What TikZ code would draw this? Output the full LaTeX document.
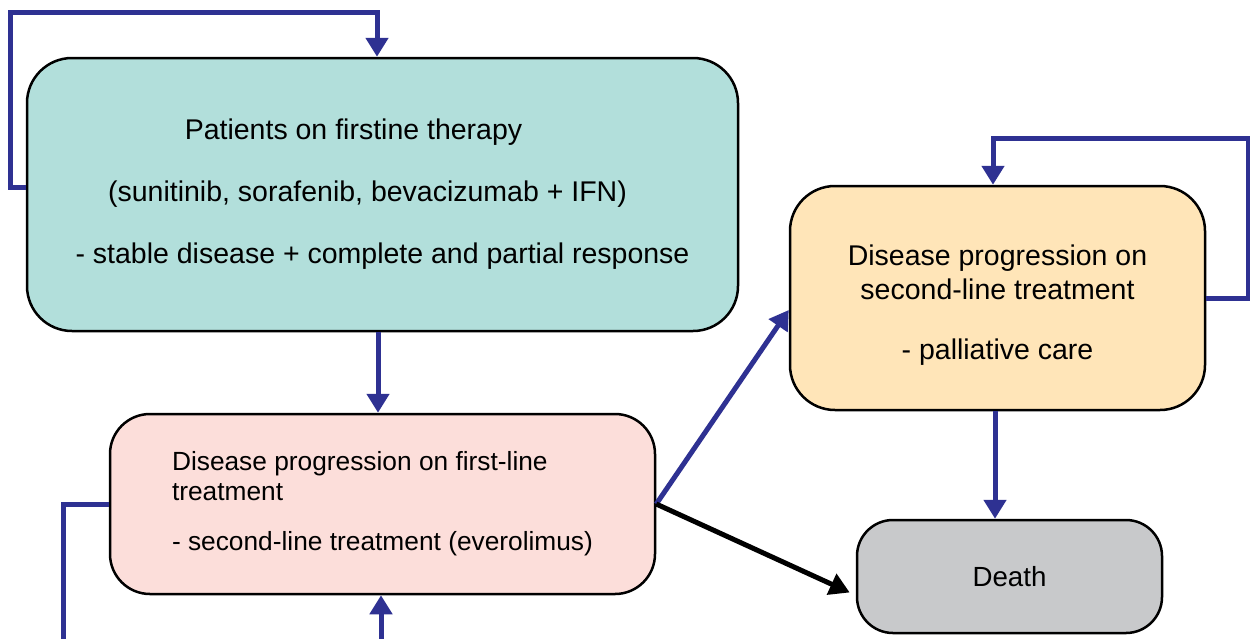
\documentclass[tikz,border=0pt]{standalone}
\usepackage{fontspec}
\setmainfont{Liberation Sans}
\usetikzlibrary{arrows.meta,calc}
\definecolor{firstline}{RGB}{178,223,219}
\definecolor{firstprog}{RGB}{252,222,218}
\definecolor{secondprog}{RGB}{255,229,184}
\definecolor{deathgray}{RGB}{200,201,203}
\definecolor{flowblue}{RGB}{46,49,146}
\tikzset{
  state/.style={
      draw,
      line width=2.5pt,
      rounded corners=#1,
      inner sep=0pt,
      font=\fontsize{28.5}{34}\selectfont,
  },
  state/.default=42pt,
  flow/.style={
      draw=flowblue,
      line width=5pt,
      -{Triangle[length=19pt,width=22pt]},
  },
  loopline/.style={
      draw=flowblue,
      line width=5pt,
  },
  dies/.style={
      draw=black,
      line width=5pt,
      -{Triangle[length=20pt,width=22pt]},
  }
}

\begin{document}
\begin{tikzpicture}[x=1pt,y=-1pt]
  \useasboundingbox (0,0) rectangle (1250,638);

  \node[state=45pt, fill=firstline, minimum width=711pt, minimum height=273pt, align=center]
      (first) at (382.5,194.5)
      {\hbox{Patients on firstine therapy\kern58pt}\\[28pt]
       \hbox{(sunitinib, sorafenib, bevacizumab + IFN)\kern30pt}\\[28pt]
       - stable disease + complete and partial response};
  \node[state=40pt, fill=firstprog, minimum width=545pt, minimum height=180pt,
        align=left, font=\fontsize{26.3}{30}\selectfont]
      (progone) at (382.5,504)
      {Disease progression on first-line\\
       treatment\\[20pt]
       - second-line treatment (everolimus)};
  \node[state=45pt, fill=secondprog, minimum width=415pt, minimum height=224pt,
        label={[align=center, font=\fontsize{28.5}{34}\selectfont, yshift=-7pt]center:%
          Disease progression on\\
          second-line treatment\\[26pt]
          - palliative care}]
      (progtwo) at (997.5,298) {};
  \node[state=36pt, fill=deathgray, minimum width=305pt, minimum height=113pt,
        font=\fontsize{27.7}{33}\selectfont]
      (death) at (1009.5,576.5) {Death};

  % loose ends at the picture's edges
  \coordinate (topleft) at (10,12);
  \coordinate (topright) at (1248,138);
  \coordinate (botleft) at (63,640);
  \coordinate (botmid) at (381,640);

  \draw[flow] ([yshift=7.5pt]first.west) -| (topleft) -| ([xshift=-5.5pt]first.north);
  \draw[flow] ([xshift=-4.5pt]first.south) -- ([xshift=-4.5pt]progone.north);
  \draw[loopline] (progone.west) -| (botleft);
  \draw[flow] (botmid) -- (botmid |- progone.south);
  \draw[flow] (progone.east) -- ([yshift=-12pt]progtwo.west);
  \draw[dies] (progone.east) -- ([xshift=-6pt,yshift=-16pt]death.west);
  \draw[flow] ([xshift=-2.5pt]progtwo.south) -- ([xshift=-2.5pt]progtwo.south |- death.north);
  \draw[flow] (progtwo.east) -| (topright) -| ([xshift=-4.5pt]progtwo.north);
  %   \node[draw,fit=(first)(progone)] {};
\end{tikzpicture}
\end{document}
